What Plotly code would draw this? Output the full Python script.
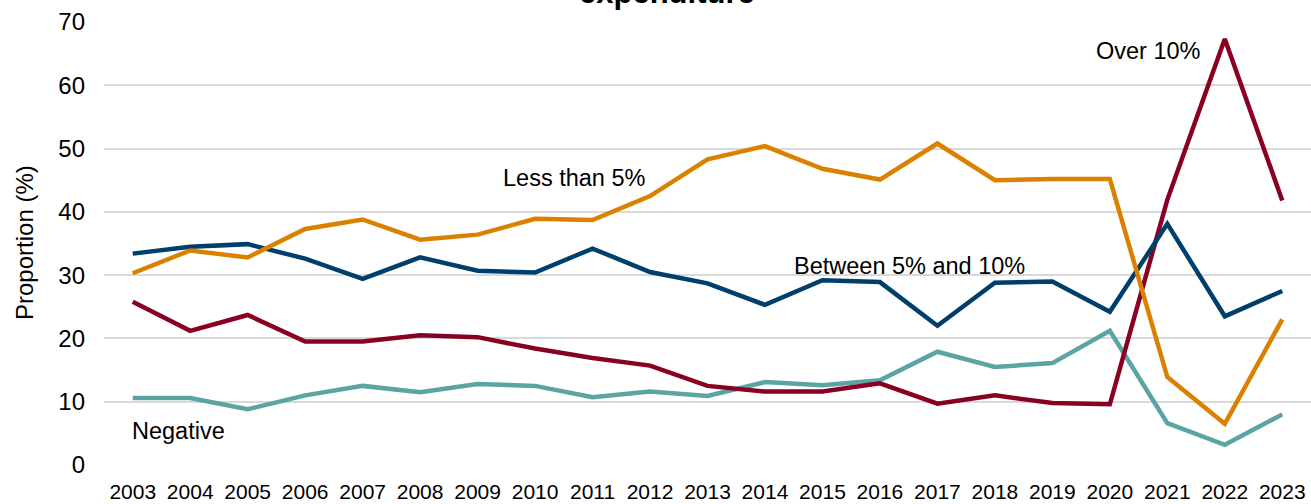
import plotly.graph_objects as go

years = [str(y) for y in range(2003, 2024)]

less_than_5 = [30.3, 33.9, 32.8, 37.3, 38.8, 35.6, 36.4, 38.9, 38.7, 42.5,
               48.3, 50.4, 46.8, 45.1, 50.8, 45.0, 45.2, 45.2, 13.9, 6.5, 23.0]
between_5_10 = [33.4, 34.5, 34.9, 32.6, 29.4, 32.8, 30.7, 30.4, 34.2, 30.5,
                28.7, 25.3, 29.2, 28.9, 22.0, 28.8, 29.0, 24.2, 38.1, 23.5, 27.5]
over_10 = [25.8, 21.2, 23.7, 19.5, 19.5, 20.5, 20.2, 18.4, 16.9, 15.7,
           12.5, 11.6, 11.6, 12.9, 9.7, 11.0, 9.8, 9.6, 41.9, 67.3, 41.8]
negative = [10.6, 10.6, 8.8, 11.0, 12.5, 11.5, 12.8, 12.5, 10.7, 11.6,
            10.9, 13.1, 12.6, 13.4, 17.9, 15.5, 16.1, 21.2, 6.6, 3.2, 8.0]

y_ticks = [0, 10, 20, 30, 40, 50, 60, 70]

series = [
    ("Negative", negative, "#5BA4A4"),
    ("Over 10%", over_10, "#8A0022"),
    ("Between 5% and 10%", between_5_10, "#003E6B"),
    ("Less than 5%", less_than_5, "#DA8100"),
]

FONT = "Liberation Sans, Arial, sans-serif"
W, H = 1311, 504
ML, MR, MT, MB = 104, 0, 22, 39
PW, PH = W - ML - MR, H - MT - MB


def px_to_paper(px, py):
    return (px - ML) / PW, (H - MB - py) / PH


fig = go.Figure()
for name, vals, col in series:
    fig.add_trace(go.Scatter(x=years, y=vals, mode="lines", name=name,
                             line=dict(color=col, width=4.5)))

label_pos = [("Less than 5%", 574, 178), ("Between 5% and 10%", 910, 266),
             ("Over 10%", 1148, 51), ("Negative", 178, 431)]
for txt, px, py in label_pos:
    ax, ay = px_to_paper(px, py)
    fig.add_annotation(text=txt, xref="paper", yref="paper", x=ax, y=ay,
                       xanchor="center", yanchor="middle", showarrow=False,
                       font=dict(family=FONT, size=23.5, color="#000000"))

# partially visible title (cut off at top edge as in the reference)
tx, ty = px_to_paper(667, 12.5)
fig.add_annotation(text="<b>expenditure</b>", xref="paper", yref="paper",
                   x=tx, y=ty, xanchor="center", yanchor="bottom",
                   showarrow=False,
                   font=dict(family=FONT, size=31, color="#000000"))

yx, yy = px_to_paper(24, 243)
fig.add_annotation(text="Proportion (%)", xref="paper", yref="paper",
                   x=yx, y=yy, xanchor="center", yanchor="middle",
                   textangle=-90, showarrow=False,
                   font=dict(family=FONT, size=24, color="#000000"))

fig.update_layout(
    width=W, height=H,
    margin=dict(l=ML, r=MR, t=MT, b=MB),
    paper_bgcolor="white", plot_bgcolor="white",
    showlegend=False,
    font=dict(family=FONT, size=21, color="#000000"),
)
fig.update_xaxes(type="category", range=[-0.5, 20.5], showgrid=False,
                 showline=False, zeroline=False, ticks="",
                 ticklabelstandoff=12,
                 tickfont=dict(family=FONT, size=21, color="#000000"))
fig.update_yaxes(range=[0, 70], tickvals=y_ticks, showgrid=True,
                 gridcolor="#D9D9D9", gridwidth=1.5, zeroline=False,
                 showline=False, ticks="", ticklabelstandoff=18,
                 tickfont=dict(family=FONT, size=24, color="#000000"))

fig.write_html("out.html",
               config={"displayModeBar": False},
               post_script="document.body.style.margin='0px';")
